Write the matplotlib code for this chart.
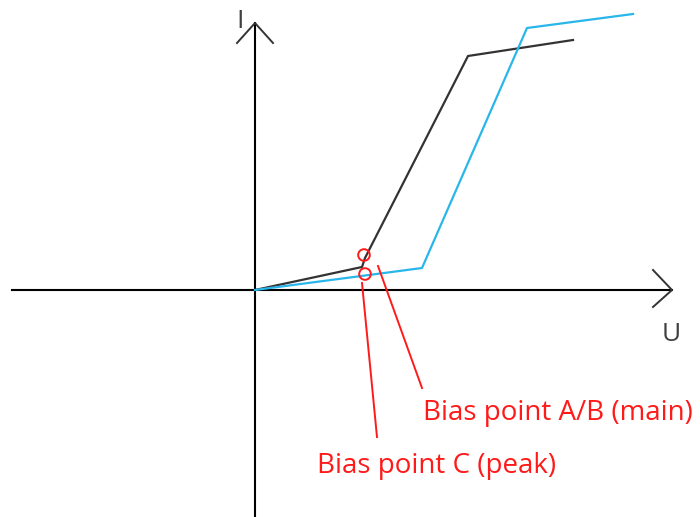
import numpy as np
import matplotlib
matplotlib.use("Agg")
import matplotlib.pyplot as plt

# I-U characteristics (arbitrary units, origin at the axis crossing)
black_u = [0.0, 10.7, 11.0, 21.3, 31.8]
black_i = [0.0, 2.3, 3.2, 23.4, 25.0]
blue_u = [0.0, 16.7, 27.2, 37.8]
blue_i = [0.0, 2.2, 26.2, 27.6]

# bias points and where their labels sit
bias_names = ["Bias point A/B (main)", "Bias point C (peak)"]
bias_u = [10.9, 11.0]
bias_i = [3.5, 1.6]
leader_start = [(12.3, 2.4), (10.7, 0.7)]
leader_end = [(16.7, -9.8), (12.2, -14.7)]
label_pos = [(16.8, -13.0), (6.2, -18.3)]

RED = "#ff1a1a"
AXIS_TXT = "#404040"

fig = plt.figure(figsize=(7, 5.17), dpi=100)
ax = fig.add_axes([0, 0, 1, 1])
ax.set_xlim(-25.5, 44.5)
ax.set_ylim(-22.7, 29.0)
ax.axis("off")

# axes with open arrow heads
x_end, y_end = 41.7, 26.7
ax.plot([-24.3, x_end], [0, 0], color="black", lw=1.5)
ax.plot([0, 0], [-22.7, y_end], color="black", lw=1.5)
ax.plot([x_end - 1.9, x_end, x_end - 1.9], [2.0, 0, -1.7], color="#333333", lw=1.4)
ax.plot([-1.8, 0, 1.8], [y_end - 2.0, y_end, y_end - 2.0], color="#333333", lw=1.4)
ax.text(-1.5, 26.9, "I", fontsize=19, color=AXIS_TXT, family="Open Sans",
        ha="center", va="center")
ax.text(41.6, -4.4, "U", fontsize=19, color=AXIS_TXT, family="Open Sans",
        ha="center", va="center")

ax.plot(black_u, black_i, color="#333333", lw=1.6)
ax.plot(blue_u, blue_i, color="#29b6ea", lw=1.6)

ax.scatter(bias_u, bias_i, s=70, facecolors="none", edgecolors=RED, linewidths=1.4, zorder=5)
for name, p0, p1, tp in zip(bias_names, leader_start, leader_end, label_pos):
    ax.plot([p0[0], p1[0]], [p0[1], p1[1]], color=RED, lw=1.4)
    ax.text(tp[0], tp[1], name, fontsize=20, color=RED, family="Open Sans",
            ha="left", va="baseline")

fig.savefig("out.png", dpi=100)
